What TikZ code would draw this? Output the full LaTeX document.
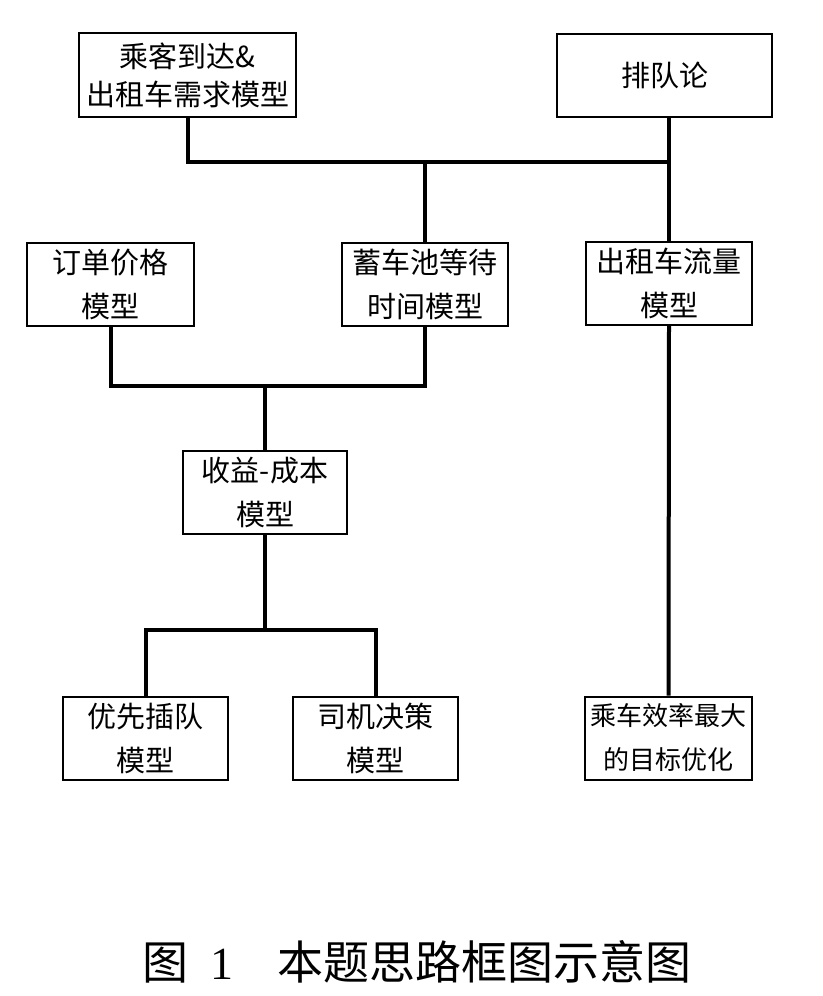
\documentclass[tikz,border=0pt]{standalone}
\usepackage{fontspec}
\setmainfont{Liberation Serif}
\newfontfamily\cjk{Noto Sans CJK SC}

\begin{document}
\begin{tikzpicture}[x=1pt,y=-1pt,
  box/.style={draw,line width=2pt,align=center,inner sep=0pt,
    minimum width=166pt,minimum height=83pt,
    font=\cjk\fontsize{29}{44}\selectfont},
  link/.style={line width=4pt}]
\useasboundingbox (0,0) rectangle (822,996);
% the two boxes on top, and where their lines meet
\node[box,minimum width=217pt,minimum height=84pt,
  font=\cjk\fontsize{29}{38}\selectfont] (arrive) at (187.5,75) {乘客到达\&\\出租车需求模型};
\node[box,minimum width=215pt] (queue) at (664.5,75.5) {排队论};
\coordinate (topbar) at (0,162);
% second level
\node[box,minimum width=167pt] (price) at (110.5,284.5) {订单价格\\模型};
\node[box] (pool) at (425,284.5) {蓄车池等待\\时间模型};
\node[box] (flow) at (669,283.5) {出租车流量\\模型};
\coordinate (midbar) at (0,386);
% revenue box in the middle
\node[box,minimum width=164pt] (gain) at (265,492.5) {收益-成本\\模型};
\coordinate (lowbar) at (0,630);
% bottom row
\node[box,minimum width=165pt] (jump) at (145.5,738.5) {优先插队\\模型};
\node[box,minimum width=165pt] (driver) at (375.5,738.5) {司机决策\\模型};
\node[box,minimum width=167pt,font=\cjk\fontsize{26}{44}\selectfont] (goal) at (668.5,738) {乘车效率最大\\的目标优化};

% connectors
\draw[link] (arrive.south) |- (flow.north |- topbar);
\draw[link] (queue.south -| flow.north) -- (flow.north);
\draw[link] (pool.north) -- (pool.north |- topbar);
\draw[link] (price.south) |- (pool.south |- midbar) -- (pool.south);
\draw[link] (gain.north) -- (gain.north |- midbar);
\draw[link] (gain.south) -- (gain.south |- lowbar);
\draw[link] (jump.north) |- (driver.north |- lowbar) -- (driver.north);
\draw[link] (flow.south) -- (goal.north);

% caption under the figure
\node[font=\cjk\fontsize{46}{46}\selectfont] (caption) at (417,962)
  {图\hspace{22pt}{\rmfamily 1}\hspace{44pt}本题思路框图示意图};
\end{tikzpicture}
\end{document}
